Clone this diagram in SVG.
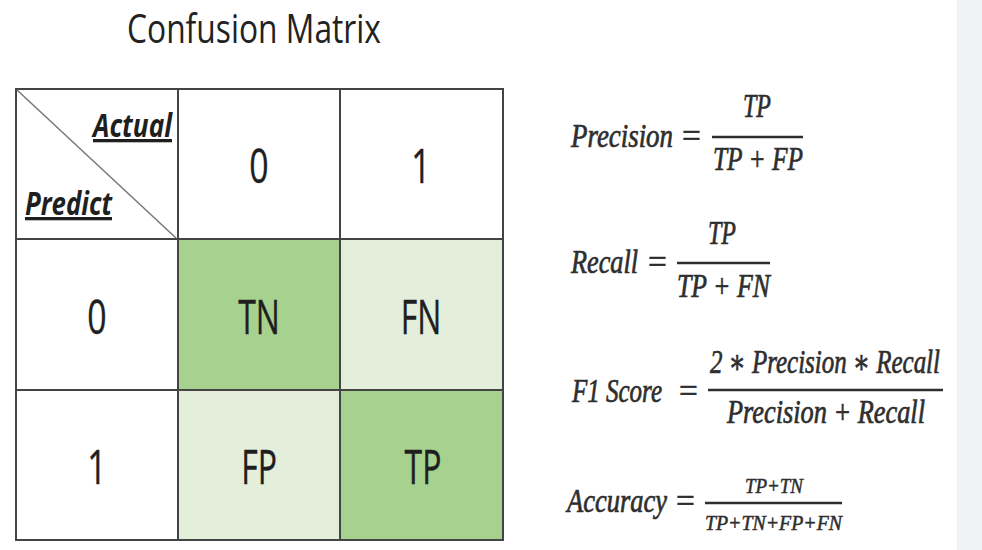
<svg xmlns="http://www.w3.org/2000/svg" width="982" height="550" viewBox="0 0 982 550">
<style>
.cell{font-family:"Open Sans","Liberation Sans",sans-serif;font-size:47px;fill:#1f1f1f;text-anchor:middle;stroke:#1f1f1f;stroke-width:0.4}
.hdr{font-family:"Open Sans","Liberation Sans",sans-serif;font-size:33px;font-weight:bold;font-style:italic;fill:#1f1f1f;text-decoration:underline}
.f{font-family:"Liberation Serif","DejaVu Serif",serif;font-style:italic;font-size:33px;fill:#2e2e2e;stroke:#2e2e2e;stroke-width:0.7}
.fs{font-family:"Liberation Serif","DejaVu Serif",serif;font-style:italic;font-size:21px;fill:#2e2e2e;stroke:#2e2e2e;stroke-width:0.5}
.bar{stroke:#2e2e2e;stroke-width:2.5}
.grid{stroke:#444;stroke-width:2;fill:none}
</style>
<rect x="0" y="0" width="982" height="550" fill="#ffffff"/>
<rect x="957" y="0" width="25" height="550" fill="#f1f2f4"/>
<text id="title" x="127" y="43" font-family="Open Sans, Liberation Sans, sans-serif" font-size="40" fill="#222" textLength="254" lengthAdjust="spacingAndGlyphs">Confusion Matrix</text>
<g id="matrix">
<rect x="178" y="239" width="162" height="151" fill="#a7d18e"/>
<rect x="340" y="239" width="163" height="151" fill="#e3efda"/>
<rect x="178" y="390" width="162" height="150" fill="#e3efda"/>
<rect x="340" y="390" width="163" height="150" fill="#a7d18e"/>
<rect class="grid" x="16" y="89" width="487" height="451"/>
<line class="grid" x1="178" y1="89" x2="178" y2="540"/>
<line class="grid" x1="340" y1="89" x2="340" y2="540"/>
<line class="grid" x1="16" y1="239" x2="503" y2="239"/>
<line class="grid" x1="16" y1="390" x2="503" y2="390"/>
<line x1="17" y1="90" x2="176" y2="238" stroke="#777" stroke-width="1.5"/>
<text class="hdr" x="93" y="137" textLength="79" lengthAdjust="spacingAndGlyphs">Actual</text>
<text class="hdr" x="25" y="215" textLength="87" lengthAdjust="spacingAndGlyphs">Predict</text>
<text class="cell" transform="translate(259,183) scale(0.72,1)">0</text>
<text class="cell" transform="translate(421,183) scale(0.72,1)">1</text>
<text class="cell" transform="translate(97,334) scale(0.72,1)">0</text>
<text class="cell" transform="translate(97,484) scale(0.72,1)">1</text>
<text class="cell" transform="translate(259,334) scale(0.68,1)">TN</text>
<text class="cell" transform="translate(421,334) scale(0.68,1)">FN</text>
<text class="cell" transform="translate(259,484) scale(0.68,1)">FP</text>
<text class="cell" transform="translate(423,484) scale(0.68,1)">TP</text>
</g>
<g id="precision">
<text class="f" x="571" y="147" textLength="102" lengthAdjust="spacingAndGlyphs">Precision</text>
<text class="f" x="680" y="147">=</text>
<line class="bar" x1="712" y1="137" x2="803" y2="137"/>
<text class="f" x="743" y="117" textLength="28" lengthAdjust="spacingAndGlyphs">TP</text>
<text class="f" x="713" y="170" textLength="90" lengthAdjust="spacingAndGlyphs">TP + FP</text>
</g>
<g id="recall">
<text class="f" x="571" y="273" textLength="67" lengthAdjust="spacingAndGlyphs">Recall</text>
<text class="f" x="646" y="273">=</text>
<line class="bar" x1="677" y1="263" x2="770" y2="263"/>
<text class="f" x="708" y="244" textLength="28" lengthAdjust="spacingAndGlyphs">TP</text>
<text class="f" x="677" y="297" textLength="93" lengthAdjust="spacingAndGlyphs">TP + FN</text>
</g>
<g id="f1">
<text class="f" x="572" y="402" textLength="90" lengthAdjust="spacingAndGlyphs">F1 Score</text>
<text class="f" x="677" y="402">=</text>
<line class="bar" x1="708" y1="390" x2="943" y2="390"/>
<text class="f" x="710" y="373" textLength="230" lengthAdjust="spacingAndGlyphs">2 ∗ Precision ∗ Recall</text>
<text class="f" x="727" y="423" textLength="198" lengthAdjust="spacingAndGlyphs">Precision + Recall</text>
</g>
<g id="accuracy">
<text class="f" x="567" y="512" textLength="100" lengthAdjust="spacingAndGlyphs">Accuracy</text>
<text class="f" x="674" y="512">=</text>
<line class="bar" x1="705" y1="503" x2="842" y2="503"/>
<text class="fs" x="745" y="493" textLength="58" lengthAdjust="spacingAndGlyphs">TP+TN</text>
<text class="fs" x="705" y="530" textLength="137" lengthAdjust="spacingAndGlyphs">TP+TN+FP+FN</text>
</g>
</svg>
